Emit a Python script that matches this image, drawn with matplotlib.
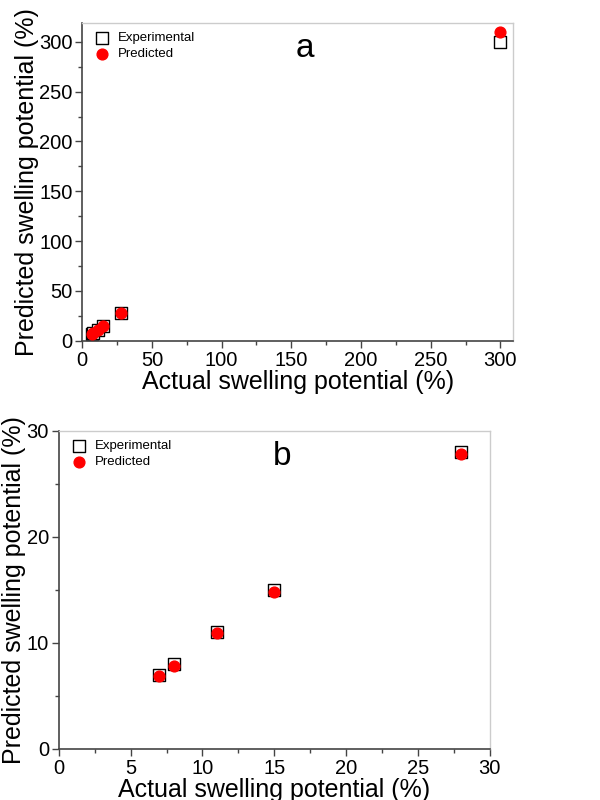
import matplotlib
matplotlib.use("Agg")
import matplotlib.pyplot as plt
from matplotlib.ticker import MultipleLocator

plt.rcParams["font.family"] = ["Liberation Sans", "DejaVu Sans"]

# data
actual = [7, 8, 11, 15, 28, 300]
experimental = [7, 8, 11, 15, 28, 300]
predicted = [6.9, 7.8, 10.9, 14.8, 27.8, 310]

actual_b = actual[:5]
experimental_b = experimental[:5]
predicted_b = predicted[:5]

fig = plt.figure(figsize=(6, 8), dpi=100)
ax1 = fig.add_axes([0.137, 0.574, 0.718, 0.3975])
ax2 = fig.add_axes([0.098, 0.064, 0.718, 0.3975])


def style(ax, xmaj, ymaj, xlim, ylim, letter, ylab_x):
    ax.set_xlim(*xlim)
    ax.set_ylim(*ylim)
    ax.xaxis.set_major_locator(MultipleLocator(xmaj))
    ax.xaxis.set_minor_locator(MultipleLocator(xmaj / 2))
    ax.yaxis.set_major_locator(MultipleLocator(ymaj))
    ax.yaxis.set_minor_locator(MultipleLocator(ymaj / 2))
    for s in ["top", "right"]:
        ax.spines[s].set_color("#cccccc")
        ax.spines[s].set_linewidth(1.0)
    for s in ["left", "bottom"]:
        ax.spines[s].set_color("#444444")
        ax.spines[s].set_linewidth(1.2)
    ax.tick_params(which="major", direction="out", length=5, width=1, color="#444444",
                   labelsize=14.5, pad=2)
    ax.tick_params(which="minor", direction="out", length=3, width=1, color="#444444")
    ax.set_xlabel("Actual swelling potential (%)", fontsize=18, labelpad=0)
    ax.set_ylabel("Predicted swelling potential (%)", fontsize=18)
    ax.yaxis.set_label_coords(ylab_x, 0.5)
    ax.text(0.518, 0.92, letter, transform=ax.transAxes, fontsize=24,
            ha="center", va="center")
    ax.legend(loc="upper left", frameon=False, fontsize=9.5, handletextpad=0.7,
              borderaxespad=0.3, labelspacing=0.3, handlelength=1.0,
              bbox_to_anchor=(0.01, 1.0))


ax1.scatter(actual, experimental, marker="s", s=70, facecolors="white",
            edgecolors="black", linewidths=1.0, label="Experimental", zorder=2)
ax1.scatter(actual, predicted, marker="o", s=60, color="#ff0000",
            label="Predicted", zorder=3)
style(ax1, 50, 50, (0, 309), (0, 319), "a", -0.1)

ax2.scatter(actual_b, experimental_b, marker="s", s=70, facecolors="white",
            edgecolors="black", linewidths=1.0, label="Experimental", zorder=2)
ax2.scatter(actual_b, predicted_b, marker="o", s=60, color="#ff0000",
            label="Predicted", zorder=3)
style(ax2, 5, 10, (0, 30), (0, 30), "b", -0.076)

fig.savefig("out.png", dpi=100)
